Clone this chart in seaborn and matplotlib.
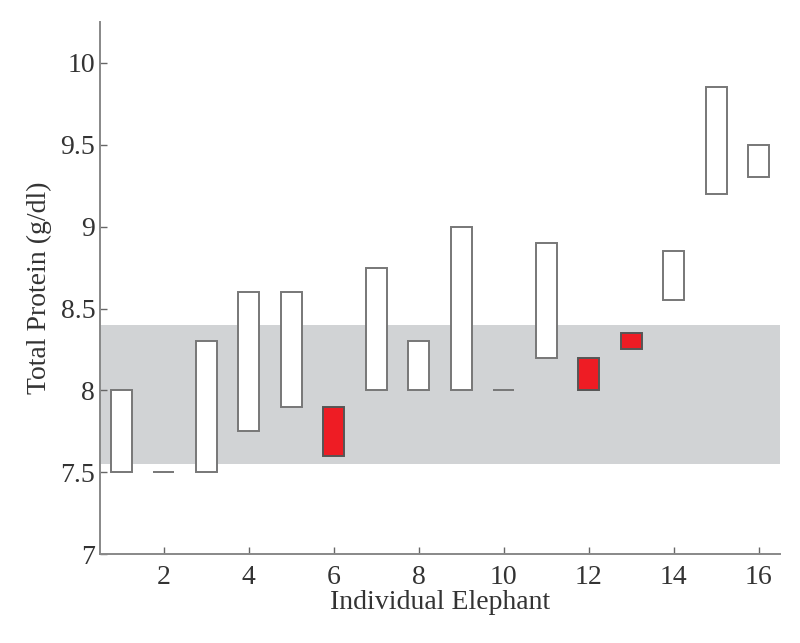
import matplotlib
matplotlib.use("Agg")
import matplotlib.pyplot as plt
import seaborn as sns
import pandas as pd

elephant = list(range(1, 17))
low = [7.5, 7.5, 7.5, 7.75, 7.9, 7.6, 8.0, 8.0, 8.0, 8.0, 8.2, 8.0, 8.25, 8.55, 9.2, 9.3]
high = [8.0, 7.5, 8.3, 8.6, 8.6, 7.9, 8.75, 8.3, 9.0, 8.0, 8.9, 8.2, 8.35, 8.85, 9.85, 9.5]
flagged = [6, 12, 13]
ref_low, ref_high = 7.55, 8.4

df = pd.DataFrame({'id': elephant, 'low': low, 'high': high})
df['span'] = df['high'] - df['low']

sns.set_theme(style="white")
plt.rcParams['font.family'] = ['Liberation Serif', 'DejaVu Serif']

fig, ax = plt.subplots(figsize=(8, 6.43), dpi=100)
fig.subplots_adjust(left=0.125, right=0.975, bottom=0.138, top=0.966)

ax.axhspan(ref_low, ref_high, color='#d1d3d5', lw=0, zorder=0)

sns.barplot(data=df, x='id', y='span', bottom=df['low'], native_scale=True,
            width=0.5, color='white', edgecolor='#777777', linewidth=1.4,
            errorbar=None, ax=ax, zorder=2)

# colour the flagged elephants red
for bar, i in zip(ax.containers[0], df['id']):
    if i in flagged:
        bar.set_facecolor('#ee1c24')
        bar.set_edgecolor('#555555')

ax.set_xlim(0.5, 16.5)
ax.set_ylim(7, 10.25)
ax.set_xticks(range(2, 17, 2))
ax.set_yticks([7, 7.5, 8, 8.5, 9, 9.5, 10])
ax.set_yticklabels(['7', '7.5', '8', '8.5', '9', '9.5', '10'])
ax.tick_params(direction='in', length=5, width=1, color='#666666',
               labelsize=20, labelcolor='#333333', bottom=True, left=True)
ax.tick_params(axis='x', pad=8)
ax.set_xlabel('Individual Elephant', fontsize=20, color='#333333', labelpad=0)
ax.set_ylabel('Total Protein (g/dl)', fontsize=20, color='#333333', labelpad=6)

sns.despine(ax=ax)
for s in ['left', 'bottom']:
    ax.spines[s].set_color('#888888')
    ax.spines[s].set_linewidth(1.4)

fig.savefig('out.png', dpi=100)
